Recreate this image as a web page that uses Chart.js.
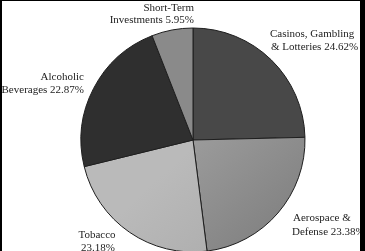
<!DOCTYPE html>
<html>
<head>
<meta charset="utf-8">
<script src="https://cdn.jsdelivr.net/npm/chart.js@4/dist/chart.umd.min.js"></script>
<style>
    html, body { margin: 0; padding: 0; background: #fff; overflow: hidden; }
    #wrap { position: relative; width: 365px; height: 251px; }
    #frame {
        position: absolute; left: 0; top: 0; right: 0; bottom: 0;
        border-left: 2px solid #000; border-top: 1px solid #000; border-right: 5px solid #000;
        pointer-events: none;
    }
</style>
</head>
<body>
<div id="wrap">
    <canvas id="myChart" width="365" height="251"></canvas>
    <div id="frame"></div>
</div>
<script>
const sectors = ["Casinos, Gambling & Lotteries", "Aerospace & Defense", "Tobacco", "Alcoholic Beverages", "Short-Term Investments"];
const shares = [24.62, 23.38, 23.18, 22.87, 5.95];
const sliceColors = ["#484848", "#8c8c8c", "#b2b2b2", "#2f2f2f", "#8a8a8a"];

// label lines: text, x, y, align
const labelLines = [
    ["Short-Term", 194, 8, "right"],
    ["Investments 5.95%", 194, 20, "right"],
    ["Casinos, Gambling", 270, 34, "left"],
    ["& Lotteries 24.62%", 271, 47, "left"],
    ["Alcoholic", 84, 77, "right"],
    ["Beverages 22.87%", 84, 90, "right"],
    ["Tobacco", 97, 235, "center"],
    ["23.18%", 98, 248, "center"],
    ["Aerospace &", 293, 218, "left"],
    ["Defense 23.38%", 292, 232, "left"],
];

const labelPlugin = {
    id: "labelPlugin",
    afterDraw(chart) {
        const ctx = chart.ctx;
        ctx.save();
        ctx.font = "11px 'Liberation Serif', 'DejaVu Serif', serif";
        ctx.fillStyle = "#222";
        ctx.textBaseline = "middle";
        labelLines.forEach(function (l) {
            ctx.textAlign = l[3];
            ctx.fillText(l[0], l[1], l[2]);
        });
        ctx.restore();
    },
};

function sliceFill(c) {
    const i = c.dataIndex;
    if (i === 1 || i === 2) {
        const g = c.chart.ctx.createLinearGradient(200, 140, 300, 250);
        if (i === 1) {
            g.addColorStop(0, "#9a9a9a");
            g.addColorStop(1, "#7c7c7c");
        } else {
            g.addColorStop(0, "#bababa");
            g.addColorStop(1, "#a8a8a8");
        }
        return g;
    }
    return sliceColors[i];
}

const ctx = document.querySelector("#myChart").getContext("2d");
const myChart = new Chart(ctx, {
    type: "pie",
    data: {
        labels: sectors,
        datasets: [
            {
                data: shares,
                backgroundColor: sliceFill,
                borderColor: "#1e1e1e",
                borderWidth: 1,
                radius: 112,
            },
        ],
    },
    options: {
        responsive: false,
        animation: false,
        layout: { padding: { left: 21, right: 0, top: 29, bottom: 0 } },
        plugins: {
            legend: { display: false },
            tooltip: { enabled: false },
        },
    },
    plugins: [labelPlugin],
});
</script>
</body>
</html>
